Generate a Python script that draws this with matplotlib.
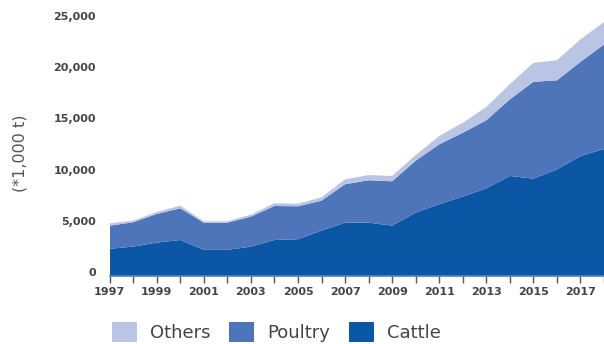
import numpy as np
import matplotlib.pyplot as plt
from matplotlib.patches import Patch

# meat volumes, in 1,000 t
years = list(range(1997, 2019))
cattle = [2650, 2860, 3250, 3510, 2540, 2540, 2860, 3510, 3580, 4420, 5200,
          5200, 4910, 6180, 7000, 7740, 8560, 9760, 9500, 10400, 11700, 12400]
poultry = [2250, 2380, 2800, 3090, 2660, 2660, 2930, 3320, 3220, 2930, 3750,
           4140, 4330, 5070, 5850, 6240, 6640, 7480, 9460, 8700, 9200, 10200]
others = [240, 160, 190, 260, 130, 130, 190, 260, 250, 330, 480,
          510, 520, 550, 810, 980, 1300, 1490, 1840, 1970, 2200, 2200]

series_names = ["Cattle", "Poultry", "Others"]
series_colors = ["#0b57a5", "#4e74b9", "#bac5e4"]
y_ticks = [0, 5000, 10000, 15000, 20000, 25000]

text_color = "#444444"

fig = plt.figure(figsize=(6.04, 3.44), dpi=100)
ax = fig.add_axes([0.1815, 0.198, 0.8185, 0.744])

ax.stackplot(years, cattle, poultry, others, colors=series_colors,
             linewidth=0)

ax.set_xlim(1997, 2018)
ax.set_ylim(0, 25000)

for side in ["top", "right", "left"]:
    ax.spines[side].set_visible(False)
ax.spines["bottom"].set_color("#4a7fc1")
ax.spines["bottom"].set_linewidth(1.2)

ax.set_xticks(years)
ax.set_xticklabels([str(y) if (y - 1997) % 2 == 0 else "" for y in years],
                   fontsize=8, fontweight="bold", color=text_color)
ax.tick_params(axis="x", direction="out", length=5, width=1,
               color="#555555", pad=3)

ax.set_yticks(y_ticks)
ax.set_yticklabels([f"{v:,}" for v in y_ticks], fontsize=8,
                   fontweight="bold", color=text_color)
ax.tick_params(axis="y", length=0, pad=10)
for lbl in ax.get_yticklabels():
    lbl.set_verticalalignment("baseline")

fig.text(0.033, 0.555, "(*1,000 t)", rotation=90, ha="center", va="center",
         fontsize=11.5, color="#555555")

handles = [Patch(facecolor=c, edgecolor="none")
           for c in reversed(series_colors)]
fig.legend(handles, list(reversed(series_names)), ncol=3, frameon=False,
           loc="center left", bbox_to_anchor=(0.17, 0.035), fontsize=13,
           labelcolor=text_color, handlelength=1.4, handleheight=1.4,
           handletextpad=0.7, columnspacing=1.05, borderpad=0)

fig.savefig("out.png", dpi=100)
